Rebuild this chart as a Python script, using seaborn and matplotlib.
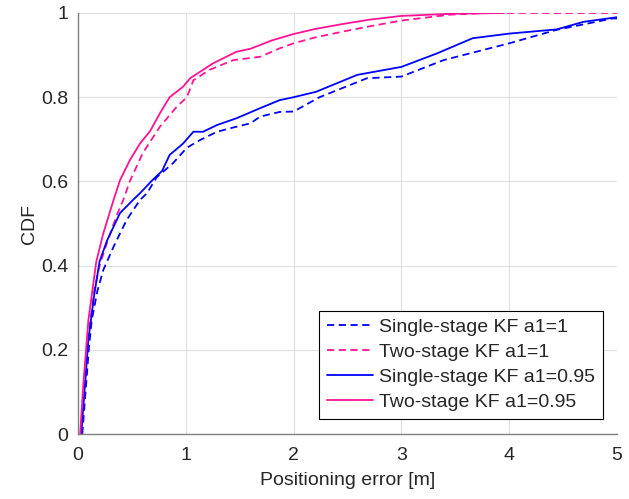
"""
plot.py - CDF of positioning error for single-stage vs two-stage KF.
"""
import matplotlib
matplotlib.use('Agg')
import matplotlib.pyplot as plt
from matplotlib.ticker import FormatStrFormatter
import seaborn as sns

# -- Data --
single_a1_x = [0.04, 0.07, 0.1, 0.127, 0.18, 0.235, 0.33, 0.45, 0.575, 0.64, 0.73, 0.88,
               1.01, 1.13, 1.29, 1.47, 1.6, 1.69, 1.87, 2.0, 2.24, 2.68, 3.0, 3.39,
               4.0, 4.44, 4.96, 5.0]
single_a1_y = [0, 0.1, 0.2, 0.27, 0.34, 0.39, 0.445, 0.508, 0.556, 0.572, 0.61, 0.643,
               0.68, 0.698, 0.718, 0.73, 0.738, 0.754, 0.765, 0.766, 0.80, 0.845, 0.849, 0.888,
               0.928, 0.96, 0.987, 0.987]

two_a1_x = [0.03, 0.06, 0.1, 0.15, 0.2, 0.25, 0.3, 0.36, 0.42, 0.48, 0.6, 0.76, 0.915,
            1.01, 1.07, 1.22, 1.44, 1.69, 1.87, 2.0, 2.2, 2.46, 2.7, 3.0, 3.45, 3.8, 5.0]
two_a1_y = [0, 0.1, 0.24, 0.34, 0.40, 0.44, 0.477, 0.52, 0.556, 0.60, 0.667, 0.73, 0.777,
            0.80, 0.84, 0.865, 0.888, 0.896, 0.916, 0.928, 0.942, 0.956, 0.968, 0.982, 0.996, 1.0, 1.0]

single_a095_x = [0.03, 0.06, 0.096, 0.15, 0.2, 0.27, 0.39, 0.51, 0.575, 0.69, 0.78, 0.85,
                 0.975, 1.07, 1.16, 1.29, 1.47, 1.69, 1.87, 2.0, 2.21, 2.59, 3.0, 3.33,
                 3.66, 4.0, 4.44, 4.69, 5.0]
single_a095_y = [0, 0.1, 0.223, 0.33, 0.41, 0.46, 0.525, 0.556, 0.572, 0.603, 0.625, 0.663,
                 0.69, 0.718, 0.718, 0.734, 0.75, 0.774, 0.793, 0.80, 0.813, 0.853, 0.872, 0.904,
                 0.94, 0.951, 0.961, 0.979, 0.99]

two_a095_x = [0.02, 0.05, 0.096, 0.17, 0.235, 0.33, 0.39, 0.48, 0.575, 0.67, 0.76, 0.85,
              0.975, 1.04, 1.16, 1.25, 1.47, 1.6, 1.8, 2.0, 2.2, 2.46, 2.7, 3.0, 3.45, 3.95]
two_a095_y = [0, 0.12, 0.27, 0.41, 0.477, 0.556, 0.603, 0.65, 0.69, 0.72, 0.762, 0.80,
              0.825, 0.845, 0.865, 0.88, 0.908, 0.915, 0.935, 0.95, 0.962, 0.974, 0.984, 0.993, 0.998, 1.0]

BLUE = '#0000ff'
PINK = '#ff1493'
DASH = (0, (4, 2.5))

sns.set_theme(style='white')
plt.rcParams['font.family'] = ['Liberation Sans', 'DejaVu Sans']

fig = plt.figure(figsize=(6.29, 4.99), dpi=100)
ax = fig.add_axes([0.124, 0.130, 0.857, 0.844])

series = [
    (single_a1_x, single_a1_y, BLUE, DASH, 'Single-stage KF a1=1'),
    (two_a1_x, two_a1_y, PINK, DASH, 'Two-stage KF a1=1'),
    (single_a095_x, single_a095_y, BLUE, '-', 'Single-stage KF a1=0.95'),
    (two_a095_x, two_a095_y, PINK, '-', 'Two-stage KF a1=0.95'),
]
for xs, ys, col, ls, lab in series:
    sns.lineplot(x=xs, y=ys, sort=False, estimator=None, color=col,
                 linestyle=ls, linewidth=1.3, label=lab, ax=ax)

ax.set_xlim(0, 5)
ax.set_ylim(0, 1)
ax.set_xticks([0, 1, 2, 3, 4, 5])
ax.set_yticks([0, 0.2, 0.4, 0.6, 0.8, 1.0])
ax.yaxis.set_major_formatter(FormatStrFormatter('%g'))
ax.grid(True, color='#e0e0e0', linewidth=0.8)
ax.set_axisbelow(True)

for side in ['top', 'right']:
    ax.spines[side].set_visible(False)
for side in ['left', 'bottom']:
    ax.spines[side].set_color('#808080')
    ax.spines[side].set_linewidth(1.0)
ax.tick_params(direction='in', length=4, width=0.8, color='#808080',
               labelsize=14, labelcolor='#262626')
ax.tick_params(axis='x', pad=9)
ax.tick_params(axis='y', pad=7)

ax.set_xlabel('Positioning error [m]', fontsize=14, color='#262626', labelpad=6)
ax.set_ylabel('CDF', fontsize=14, color='#262626', labelpad=2)

leg = ax.legend(loc='lower right', bbox_to_anchor=(0.974, 0.036), fontsize=14,
                fancybox=False, framealpha=1, edgecolor='black', handlelength=2.4,
                borderpad=0.4, labelspacing=0.38, handletextpad=0.3, borderaxespad=0)
leg.get_frame().set_linewidth(0.8)

fig.savefig('out.png', dpi=100, facecolor='white')
